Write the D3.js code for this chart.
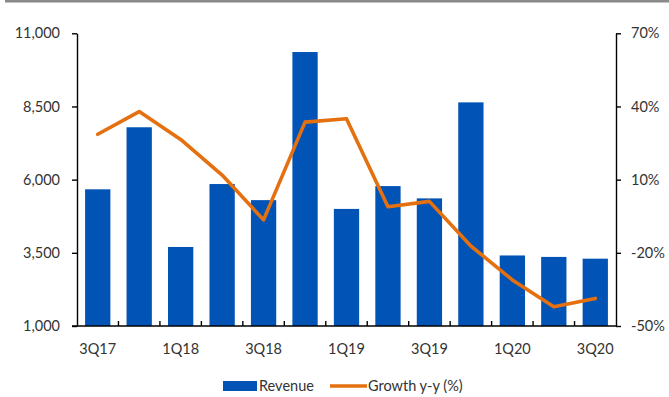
<!DOCTYPE html>
<html>
<head>
<meta charset="utf-8">
<script src="https://cdn.jsdelivr.net/npm/d3@7"></script>
<style>
  body { margin: 0; background: #fff; }
  svg { display: block; font-family: Lato, "Noto Sans", sans-serif; }
  .axis text { font-size: 14.5px; fill: #333; font-family: Lato, "Noto Sans", sans-serif; }
  .axis path, .axis line { stroke: #000; stroke-width: 1.4; }
</style>
</head>
<body>
<div id="chart"></div>
<script>
// quarters, revenue (left axis) and y-y growth in % (right axis)
const quarters = ['3Q17', '4Q17', '1Q18', '2Q18', '3Q18', '4Q18', '1Q19',
    '2Q19', '3Q19', '4Q19', '1Q20', '2Q20', '3Q20'];
const revenue = [5670, 7790, 3700, 5850, 5300, 10360, 5000,
    5780, 5360, 8640, 3410, 3360, 3300];
const growth = [28.6, 37.9, 26.5, 11.9, -6.5, 33.6, 35.0,
    -1.1, 1.1, -17.2, -31.1, -42.1, -38.7];
const leftTicks = [1000, 3500, 6000, 8500, 11000];
const rightTicks = [-50, -20, 10, 40, 70];
const shownLabels = ['3Q17', '1Q18', '3Q18', '1Q19', '3Q19', '1Q20', '3Q20'];

const width = 669,
    height = 397,
    margin = { top: 33.3, right: 53, bottom: 71, left: 77 },
    barColor = '#0153b5',
    lineColor = '#e5700f';

const svg = d3.select('#chart').append('svg')
    .attr('width', width)
    .attr('height', height);

// grey rule across the top
svg.append('rect')
    .attr('x', 5).attr('y', 0)
    .attr('width', width - 5).attr('height', 2.5)
    .attr('fill', '#8a8a8a');

const x = d3.scaleBand()
    .domain(quarters)
    .range([margin.left, width - margin.right])
    .paddingInner(0.39)
    .paddingOuter(0.195);

const yL = d3.scaleLinear()
    .domain([1000, 11000])
    .range([height - margin.bottom, margin.top]);

const yR = d3.scaleLinear()
    .domain([-50, 70])
    .range([height - margin.bottom, margin.top]);

// bars
svg.append('g')
    .selectAll('rect')
    .data(quarters)
    .enter().append('rect')
    .attr('x', d => x(d))
    .attr('width', x.bandwidth())
    .attr('y', (d, i) => yL(revenue[i]))
    .attr('height', (d, i) => yL(1000) - yL(revenue[i]))
    .attr('fill', barColor);

// growth line
const line = d3.line()
    .x(d => x(d.q) + x.bandwidth() / 2)
    .y(d => yR(d.g));

svg.append('path')
    .datum(quarters.map((q, i) => ({ q: q, g: growth[i] })))
    .attr('d', line)
    .attr('fill', 'none')
    .attr('stroke', lineColor)
    .attr('stroke-width', 3.6)
    .attr('stroke-linejoin', 'round')
    .attr('stroke-linecap', 'round');

// left axis
svg.append('g')
    .attr('class', 'axis')
    .attr('transform', `translate(${margin.left},0)`)
    .call(d3.axisLeft(yL).tickValues(leftTicks).tickFormat(d3.format(','))
        .tickSizeInner(5).tickSizeOuter(0).tickPadding(12));

// right axis
svg.append('g')
    .attr('class', 'axis')
    .attr('transform', `translate(${width - margin.right},0)`)
    .call(d3.axisRight(yR).tickValues(rightTicks).tickFormat(d => d + '%')
        .tickSizeInner(5).tickSizeOuter(0).tickPadding(10));

// bottom axis: labels on every other quarter, tick marks between bars
const gb = svg.append('g')
    .attr('class', 'axis')
    .attr('transform', `translate(0,${height - margin.bottom})`)
    .call(d3.axisBottom(x).tickSize(0).tickPadding(18)
        .tickFormat(d => shownLabels.includes(d) ? d : ''));

gb.select('.domain').attr('d', `M${margin.left - 5},0H${width - margin.right}`);

gb.selectAll('.sep')
    .data(quarters.slice(1))
    .enter().append('line')
    .attr('class', 'sep')
    .attr('x1', d => x(d) - x.step() * x.paddingInner() / 2)
    .attr('x2', d => x(d) - x.step() * x.paddingInner() / 2)
    .attr('y1', 0)
    .attr('y2', -5);

// legend
const legend = svg.append('g').attr('font-size', 14.5).attr('fill', '#333');

legend.append('rect')
    .attr('x', 223).attr('y', 381)
    .attr('width', 34).attr('height', 10)
    .attr('fill', barColor);
legend.append('text')
    .attr('x', 259).attr('y', 386).attr('dy', '0.35em')
    .text('Revenue');

legend.append('line')
    .attr('x1', 330).attr('x2', 367)
    .attr('y1', 386).attr('y2', 386)
    .attr('stroke', lineColor).attr('stroke-width', 3.6);
legend.append('text')
    .attr('x', 368).attr('y', 386).attr('dy', '0.35em')
    .text('Growth y-y (%)');
</script>
</body>
</html>
